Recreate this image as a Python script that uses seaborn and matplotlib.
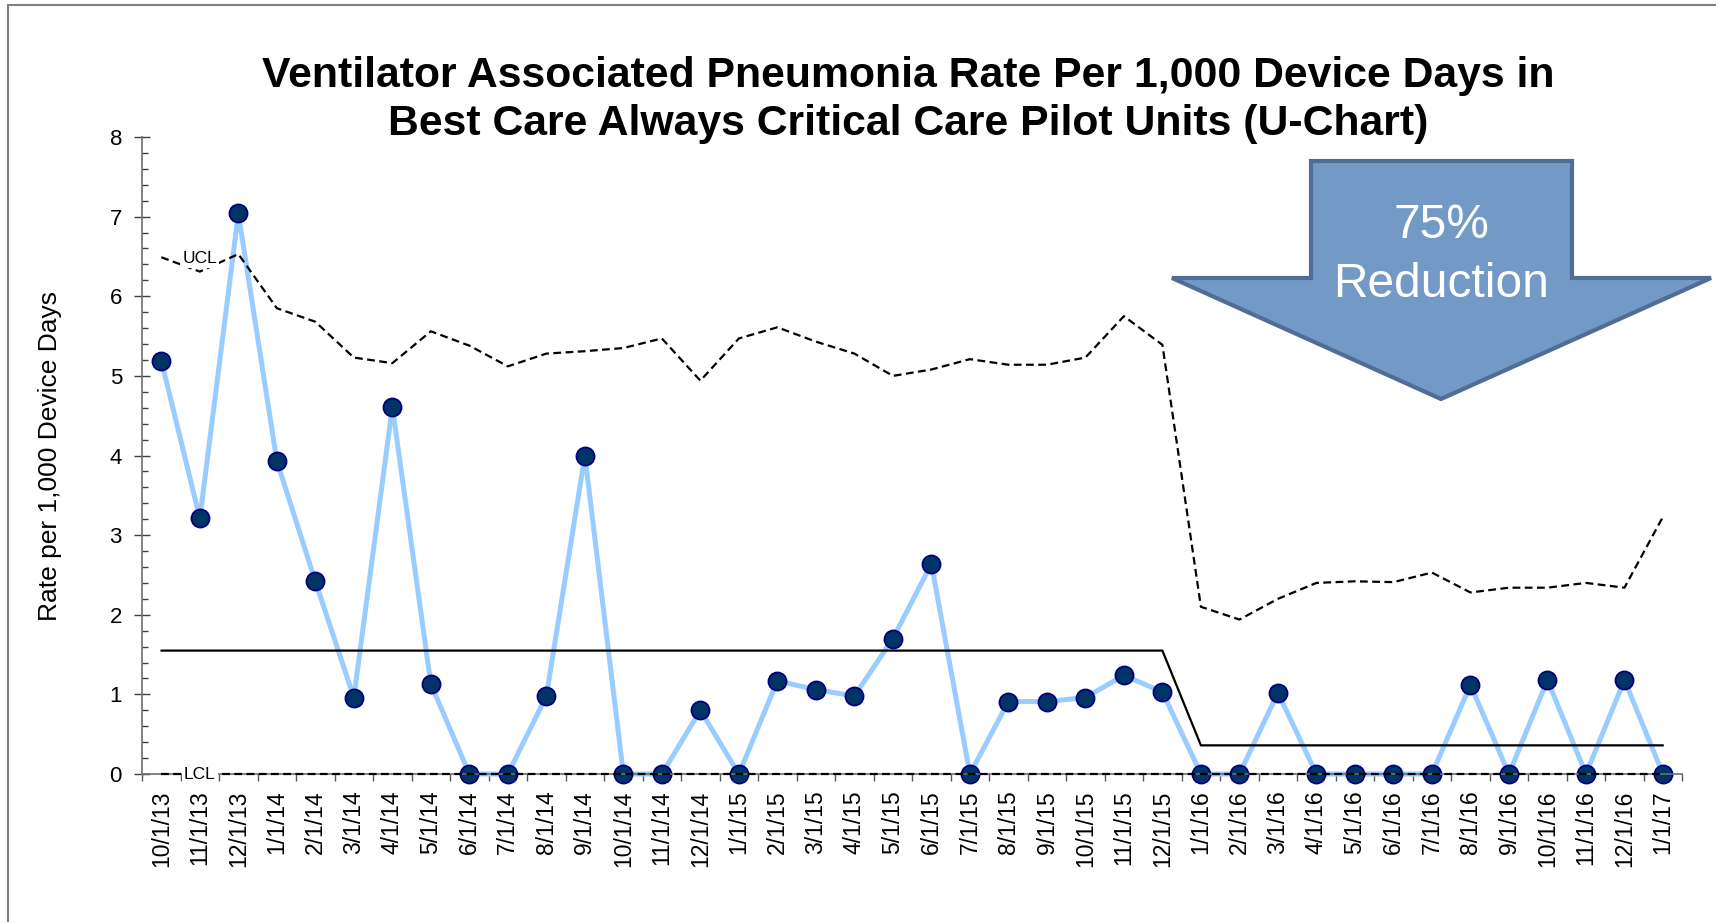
import numpy as np
import pandas as pd
import seaborn as sns
import matplotlib.pyplot as plt
from matplotlib.patches import Polygon, Rectangle
from matplotlib.ticker import MultipleLocator, FixedLocator

months = ["10/1/13", "11/1/13", "12/1/13",
          "1/1/14", "2/1/14", "3/1/14", "4/1/14", "5/1/14", "6/1/14",
          "7/1/14", "8/1/14", "9/1/14", "10/1/14", "11/1/14", "12/1/14",
          "1/1/15", "2/1/15", "3/1/15", "4/1/15", "5/1/15", "6/1/15",
          "7/1/15", "8/1/15", "9/1/15", "10/1/15", "11/1/15", "12/1/15",
          "1/1/16", "2/1/16", "3/1/16", "4/1/16", "5/1/16", "6/1/16",
          "7/1/16", "8/1/16", "9/1/16", "10/1/16", "11/1/16", "12/1/16",
          "1/1/17"]
rate = [5.19, 3.21, 7.04, 3.93, 2.42, 0.96, 4.61, 1.13, 0.00, 0.00, 0.98, 4.00,
        0.00, 0.00, 0.80, 0.00, 1.17, 1.06, 0.98, 1.70, 2.64, 0.00, 0.91, 0.91,
        0.96, 1.24, 1.03, 0.00, 0.00, 1.02, 0.00, 0.00, 0.00, 0.00, 1.12, 0.00,
        1.18, 0.00, 1.18, 0.00]
center = [1.55, 1.55, 1.55, 1.55, 1.55, 1.55, 1.55, 1.55, 1.55, 1.55, 1.55, 1.55,
          1.55, 1.55, 1.55, 1.55, 1.55, 1.55, 1.55, 1.55, 1.55, 1.55, 1.55, 1.55,
          1.55, 1.55, 1.55, 0.36, 0.36, 0.36, 0.36, 0.36, 0.36, 0.36, 0.36, 0.36,
          0.36, 0.36, 0.36, 0.36]
ucl = [6.49, 6.31, 6.53, 5.85, 5.68, 5.23, 5.16, 5.56, 5.38, 5.12, 5.28, 5.31,
       5.35, 5.47, 4.94, 5.47, 5.61, 5.43, 5.28, 5.00, 5.08, 5.21, 5.14, 5.14,
       5.23, 5.75, 5.39, 2.10, 1.94, 2.20, 2.40, 2.42, 2.41, 2.53, 2.28, 2.34,
       2.34, 2.40, 2.34, 3.23]
lcl = [0.0, 0.0, 0.0, 0.0, 0.0, 0.0, 0.0, 0.0, 0.0, 0.0, 0.0, 0.0, 0.0, 0.0,
       0.0, 0.0, 0.0, 0.0, 0.0, 0.0, 0.0, 0.0, 0.0, 0.0, 0.0, 0.0, 0.0, 0.0,
       0.0, 0.0, 0.0, 0.0, 0.0, 0.0, 0.0, 0.0, 0.0, 0.0, 0.0, 0.0]

df = pd.DataFrame({"month": months, "rate": rate, "cl": center, "ucl": ucl, "lcl": lcl})

sns.set_style("white")
plt.rcParams["font.family"] = ["Liberation Sans", "DejaVu Sans"]
plt.rcParams["text.color"] = "black"
plt.rcParams["axes.labelcolor"] = "black"
plt.rcParams["xtick.color"] = "black"
plt.rcParams["ytick.color"] = "black"

fig = plt.figure(figsize=(17.16, 9.22), dpi=100)
ax = fig.add_axes([0.0828, 0.1605, 0.8975, 0.6909])

# rate series
sns.lineplot(data=df, x="month", y="rate", sort=False, estimator=None, ax=ax,
             color="#99CCFF", linewidth=3.6, marker="o", markersize=13,
             markerfacecolor="#003366", markeredgecolor="#000080",
             markeredgewidth=1.3, clip_on=False, zorder=2)
# control lines
sns.lineplot(data=df, x="month", y="cl", sort=False, estimator=None, ax=ax,
             color="black", linewidth=1.6, zorder=3)
sns.lineplot(data=df, x="month", y="ucl", sort=False, estimator=None, ax=ax,
             color="black", linewidth=1.6, linestyle=(0, (3.5, 2)), zorder=3)
sns.lineplot(data=df, x="month", y="lcl", sort=False, estimator=None, ax=ax,
             color="black", linewidth=1.6, linestyle=(0, (3.5, 2)), zorder=3,
             clip_on=False)

ax.text(1, 6.47, "UCL", ha="center", va="center", fontsize=12.5, zorder=4,
        bbox=dict(facecolor="white", edgecolor="none", pad=1.5))
ax.text(1, 0, "LCL", ha="center", va="center", fontsize=12.5, zorder=4,
        bbox=dict(facecolor="white", edgecolor="none", pad=1.5))

ax.set_xlim(-0.5, len(months) - 0.5)
ax.set_ylim(0, 8)
ax.set_xlabel("")
ax.set_ylabel("Rate per 1,000 Device Days", fontsize=19)
ax.yaxis.set_label_coords(-0.052, 0.5)

ax.set_xticks(range(len(months)))
ax.set_xticklabels(months, rotation=90, fontsize=16.5)
ax.xaxis.set_minor_locator(FixedLocator(np.arange(-0.5, len(months), 1)))
ax.tick_params(axis="x", which="major", length=0, pad=12)
ax.tick_params(axis="x", which="minor", length=5, width=1, color="#595959",
               direction="out", bottom=True)

ax.set_yticks(range(0, 9))
ax.yaxis.set_minor_locator(MultipleLocator(0.2))
ax.tick_params(axis="y", which="major", labelsize=16, length=11, width=1,
               color="#404040", direction="inout", pad=9, left=True)
ax.tick_params(axis="y", which="minor", length=4, width=1, color="#404040",
               direction="in", left=True)

for s in ["top", "right"]:
    ax.spines[s].set_visible(False)
for s in ["left", "bottom"]:
    ax.spines[s].set_color("#6e6e6e")
    ax.spines[s].set_linewidth(1.2)

fig.text(0.529, 0.8915,
         "Ventilator Associated Pneumonia Rate Per 1,000 Device Days in\n"
         "Best Care Always Critical Care Pilot Units (U-Chart)",
         ha="center", va="center", fontsize=30.8, fontweight="bold",
         linespacing=1.25)

# "75% Reduction" arrow (figure pixel positions)
W, H = 1716, 922
arrow_px = [(1311, 161), (1572, 161), (1572, 278), (1711, 278),
            (1441, 399), (1172, 278), (1311, 278)]
arrow = Polygon([(x / W, 1 - y / H) for x, y in arrow_px], closed=True,
                transform=fig.transFigure, facecolor="#7399C6",
                edgecolor="#4F6D95", linewidth=3, zorder=5)
fig.patches.append(arrow)
fig.text(1441 / W, 1 - 226 / H, "75%", color="white", fontsize=34.5,
         ha="center", va="center", zorder=6)
fig.text(1441 / W, 1 - 284 / H, "Reduction", color="white", fontsize=34.5,
         ha="center", va="center", zorder=6)

# outer frame
fig.patches.append(Rectangle((8 / W, -0.1), 1.2, 1.1 - 5 / H, fill=False,
                             edgecolor="#7f7f7f", linewidth=1.5,
                             transform=fig.transFigure))

fig.savefig("out.png", dpi=100)
